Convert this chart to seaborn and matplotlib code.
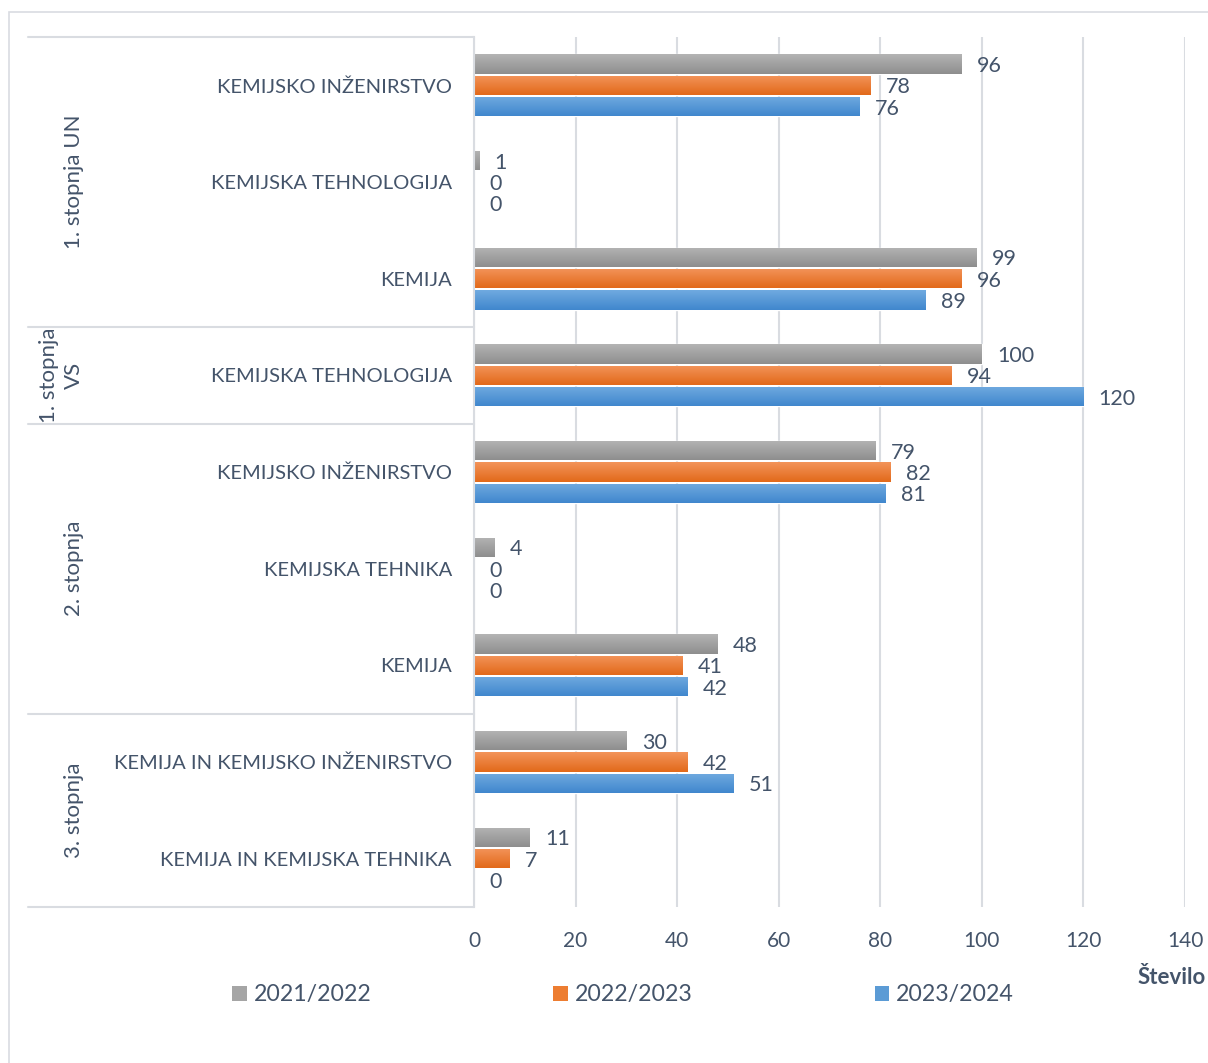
import numpy as np
import pandas as pd
import seaborn as sns
import matplotlib
matplotlib.use("Agg")
import matplotlib.pyplot as plt
from matplotlib.patches import Patch, Rectangle
from matplotlib.colors import LinearSegmentedColormap
import matplotlib.transforms as mtransforms

# ---------------- data ----------------
levels = ["1. stopnja UN", "1. stopnja UN", "1. stopnja UN",
          "1. stopnja\nVS",
          "2. stopnja", "2. stopnja", "2. stopnja",
          "3. stopnja", "3. stopnja"]
programs = ["KEMIJSKO INŽENIRSTVO", "KEMIJSKA TEHNOLOGIJA", "KEMIJA",
            "KEMIJSKA TEHNOLOGIJA",
            "KEMIJSKO INŽENIRSTVO", "KEMIJSKA TEHNIKA", "KEMIJA",
            "KEMIJA IN KEMIJSKO INŽENIRSTVO", "KEMIJA IN KEMIJSKA TEHNIKA"]
years = ["2021/2022", "2022/2023", "2023/2024"]
v_2021_2022 = [96, 1, 99, 100, 79, 4, 48, 30, 11]
v_2022_2023 = [78, 0, 96, 94, 82, 0, 41, 42, 7]
v_2023_2024 = [76, 0, 89, 120, 81, 0, 42, 51, 0]
x_ticks = [0, 20, 40, 60, 80, 100, 120, 140]
x_title = "Število"

rows = [f"{l}|{p}" for l, p in zip(levels, programs)]
df = pd.DataFrame({
    "row": rows * 3,
    "year": np.repeat(years, len(rows)),
    "value": v_2021_2022 + v_2022_2023 + v_2023_2024,
})

# ---------------- style ----------------
TEXT = "#44546a"
GRID = "#d9dce1"
colors = ["#a5a5a5", "#ed7d31", "#5b9bd5"]
grad_top = ["#b4b4b4", "#f3945a", "#70aae0"]
grad_bot = ["#8e8e8e", "#e2691a", "#4087cd"]

sns.set_theme(style="white")
plt.rcParams["font.family"] = ["Lato", "DejaVu Sans"]
plt.rcParams["text.color"] = TEXT

W, H = 1208, 1063
fig = plt.figure(figsize=(W / 100, H / 100), dpi=100)
L, R, T, B = 474, 1185, 37, 907
ax = fig.add_axes([L / W, 1 - B / H, (R - L) / W, (B - T) / H])

sns.barplot(data=df, x="value", y="row", hue="year", order=rows, hue_order=years,
            palette=colors, orient="h", width=0.666, gap=0.1, saturation=1,
            legend=False, ax=ax)

# gradient overlay on bars
for ci, cont in enumerate(ax.containers):
    cmap = LinearSegmentedColormap.from_list(f"g{ci}", [grad_top[ci], grad_bot[ci]])
    for patch in cont:
        bb = patch.get_bbox()
        if bb.width <= 0:
            continue
        ymin, ymax = min(bb.y0, bb.y1), max(bb.y0, bb.y1)
        im = ax.imshow(np.linspace(0, 1, 64).reshape(-1, 1), cmap=cmap,
                       extent=(bb.x0, bb.x1, ymax, ymin), aspect="auto",
                       interpolation="bicubic", zorder=patch.get_zorder() + 0.1)
        im.set_clip_path(patch)
    labs = ax.bar_label(cont, labels=[f"{v:g}" for v in cont.datavalues],
                        padding=11, fontsize=15.5, color=TEXT)
    for t in labs:
        t.set_va("center_baseline")

ax.set_xlim(0, 140)
ax.set_ylim(len(rows) - 0.5, -0.5)
ax.set_xticks(x_ticks)
ax.set_xticklabels([str(t) for t in x_ticks], fontsize=15, color=TEXT)
ax.set_yticks(range(len(rows)))
ax.set_yticklabels(programs, fontsize=14.5, color=TEXT)
ax.tick_params(axis="x", length=0, pad=17)
ax.tick_params(axis="y", length=0, pad=16)
ax.set_xlabel("")
ax.set_ylabel("")
ax.grid(axis="x", color=GRID, linewidth=1.5)
ax.grid(axis="y", visible=False)
ax.set_axisbelow(True)
for s in ["top", "right", "bottom"]:
    ax.spines[s].set_visible(False)
ax.spines["left"].set_color(GRID)
ax.spines["left"].set_linewidth(1.5)

# category table lines and group labels
trans = mtransforms.blended_transform_factory(ax.transAxes, ax.transData)
x_left = (28 - L) / (R - L)
bounds = [-0.5]
for i in range(1, len(levels)):
    if levels[i] != levels[i - 1]:
        bounds.append(i - 0.5)
bounds.append(len(levels) - 0.5)
for b in bounds:
    ax.plot([x_left, 0], [b, b], color=GRID, linewidth=1.5, transform=trans,
            clip_on=False)
x_grp = (84 - L) / (R - L)
for a, b in zip(bounds[:-1], bounds[1:]):
    lab = levels[int(a + 0.5)]
    ax.text(x_grp, (a + b) / 2, lab, rotation=90, ha="right", va="center",
            multialignment="center", fontsize=16, color=TEXT, transform=trans,
            linespacing=1.3)

# legend
handles = [Patch(facecolor=c, edgecolor="none") for c in colors]
fig.legend(handles, years, loc="center", bbox_to_anchor=(623 / W, 1 - 995 / H),
           ncol=3, frameon=False, fontsize=16.7, handlelength=0.62, handleheight=0.62,
           handletextpad=0.3, columnspacing=7.85, labelcolor=TEXT)

fig.text(1206 / W, 1 - 977 / H, x_title, fontsize=16, fontweight="bold",
         color=TEXT, ha="right", va="center")

# outer chart border
fig.patches.append(Rectangle((9 / W, -0.2), 2.0, 1.2 - 12 / H, transform=fig.transFigure,
                             fill=False, edgecolor=GRID, linewidth=1.2))

fig.savefig("out.png", dpi=100)
